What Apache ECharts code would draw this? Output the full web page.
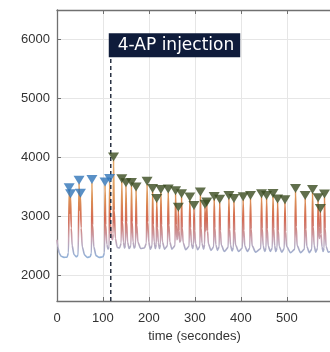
<!DOCTYPE html>
<html>
<head>
<meta charset="utf-8">
<script src="https://cdn.jsdelivr.net/npm/echarts@6/dist/echarts.min.js"></script>
<style>
  html, body { margin: 0; padding: 0; background: #ffffff; }
  #chart { width: 330px; height: 352px; }
</style>
</head>
<body>
<div id="chart"></div>
<script>
// Fluorescence trace over time, with detected peaks before and after the 4-AP injection.
const axisTitleX = 'time (secondes)';
const injectionLabel = '4-AP injection';
const injectionTime = 117;
const labelBottomValue = 5700;
const yMin = 1560, yMax = 6500;
const xMin = 0, xMax = 594, xStep = 100;

// [time (s), signal] samples of the recorded trace
const signal = [
  [0,2600],[2,2470],[5,2370],[9,2320],[15,2300],[22,2305],[25,2380],
  [26.5,3430],[28,3050],[29.5,3330],[31,2800],[33,2500],[37,2350],[42,2310],[46,2340],
  [48,3560],[49.5,3100],[51,3340],[52.5,2800],[55,2480],[60,2340],[66,2300],[72,2310],[75,2370],
  [76,3570],[77.5,2850],[80,2480],[85,2330],[92,2300],[100,2310],[103.5,2380],
  [104.5,3530],[106,2850],[108.5,2520],[111,2440],[113.5,2480],
  [114.5,3590],[116,2900],[118.5,2620],[121,2600],[122.3,2700],
  [123,3955],[124.5,3100],[127,2620],[131,2470],[136,2460],[139.7,2540],
  [141,3585],[142.5,2900],[144.5,2560],[147,2460],[149,2500],
  [150,3515],[151.5,2900],[153.5,2560],[157,2450],[161,2500],
  [162,3520],[163.5,2900],[165.5,2560],[168,2460],[171,2500],
  [172,3445],[173.5,2850],[176,2560],[182,2450],[190,2460],[194.5,2540],
  [196,3540],[197.5,2900],[199.5,2560],[203,2440],[207,2500],
  [208,3420],[209.5,2850],[211.5,2560],[214,2450],[216.2,2520],
  [217,3250],[218.5,2800],[220.5,2550],[223,2450],[225.2,2520],
  [226,3400],[227.5,2850],[229.5,2560],[234,2440],[240.5,2500],
  [242,3410],[243.5,2850],[245.5,2560],[250,2440],[256.8,2500],
  [258,3380],[259.5,2850],[261,2600],[263.2,2650],
  [264,3100],[265.5,2750],[267,2560],[270.2,2600],
  [271,3330],[272.5,2800],[274.5,2550],[280,2430],[287.5,2490],
  [289,3276],[290.5,2800],[292.5,2540],[295,2450],[297.2,2520],
  [298,3130],[299.5,2750],[301.5,2530],[306,2430],[311,2490],
  [312,3360],[313.5,2800],[315.5,2540],[319,2440],[321.2,2520],
  [322,3150],[323.5,2750],[325.2,2800],
  [326,3190],[327.5,2750],[329.5,2530],[335,2420],[341,2480],
  [342,3285],[343.5,2800],[345.5,2520],[349,2420],[353,2480],
  [354,3235],[355.5,2750],[357.5,2510],[364,2400],[372.5,2470],
  [374,3300],[375.5,2780],[377.5,2510],[381,2410],[384,2470],
  [385,3247],[386.5,2750],[388.5,2510],[395,2400],[403.5,2460],
  [405,3280],[406.5,2760],[408.5,2500],[414,2400],[419.5,2460],
  [421,3300],[422.5,2780],[424.5,2500],[432,2390],[443.5,2450],
  [445,3330],[446.5,2790],[448.5,2500],[452,2400],[455,2460],
  [456,3300],[457.5,2780],[459.5,2500],[464,2400],[468.5,2460],
  [470,3332],[471.5,2790],[473.5,2500],[476,2400],[479,2460],
  [480,3240],[481.5,2750],[483.5,2490],[489,2390],[494.5,2450],
  [496,3230],[497.5,2740],[499.5,2490],[508,2380],[517.5,2440],
  [519,3417],[520.5,2820],[522.5,2500],[530,2380],[538.5,2440],
  [540,3300],[541.5,2780],[543.5,2490],[549,2380],[554.5,2440],
  [556,3400],[557.5,2820],[559.5,2500],[563,2390],[567,2460],
  [568,3260],[569.5,2800],[571,2620],[572.3,2700],
  [573,3080],[574.5,2700],[576.5,2480],[579,2400],[581.2,2460],
  [582,3325],[583.5,2790],[585.5,2490],[590,2390],[596,2400]
];

// detected peaks before the injection
const peaksBeforeTime  = [26.5, 29.5, 48, 51, 76, 104.5, 114.5];
const peaksBeforeValue = [3430, 3330, 3560, 3340, 3570, 3530, 3590];

// detected peaks after the injection
const peaksAfterTime  = [123, 141, 150, 162, 172, 196, 208, 217, 226, 242, 258, 264, 271, 289, 298,
  312, 322, 326, 342, 354, 374, 385, 405, 421, 445, 456, 470, 480, 496, 519, 540, 556, 568, 573, 582];
const peaksAfterValue = [3955, 3585, 3515, 3520, 3445, 3540, 3420, 3250, 3400, 3410, 3380, 3100, 3330, 3276, 3130,
  3360, 3150, 3190, 3285, 3235, 3300, 3247, 3280, 3300, 3330, 3300, 3332, 3240, 3230, 3417, 3300, 3400, 3260, 3080, 3325];

const zip = (a, b) => a.map((v, i) => [v, b[i]]);
const font = 'Liberation Sans, Arial, sans-serif';
const axisGray = '#707070';
const plainNumber = v => String(v);

const chart = echarts.init(document.getElementById('chart'), null, { renderer: 'canvas' });

chart.setOption({
  animation: false,
  backgroundColor: '#ffffff',
  grid: { left: 57, top: 10, width: 275, bottom: 51, containLabel: false },
  visualMap: {
    show: false,
    type: 'continuous',
    seriesIndex: 0,
    dimension: 1,
    min: 2300,
    max: 3600,
    inRange: { color: ['#93b2d8', '#c9a2b0', '#d46a52', '#dc8f55', '#e2a566'] }
  },
  xAxis: [{
    type: 'value',
    min: xMin, max: xMax, interval: xStep,
    position: 'bottom',
    name: axisTitleX,
    nameLocation: 'middle',
    nameGap: 28,
    nameTextStyle: { fontFamily: font, fontSize: 13, color: '#333333', padding: [0, 0, 0, 2] },
    axisLine: { show: true, onZero: false, lineStyle: { color: axisGray, width: 1.3 } },
    axisTick: { show: true, inside: true, length: 4, lineStyle: { color: axisGray } },
    axisLabel: { fontFamily: font, fontSize: 13, color: '#333333', margin: 11, showMaxLabel: false },
    splitLine: { show: true, showMaxLine: false, lineStyle: { color: '#e6e6e6', width: 1 } }
  }, {
    type: 'value',
    min: xMin, max: xMax, interval: xStep,
    position: 'top',
    axisLine: { show: true, onZero: false, lineStyle: { color: axisGray, width: 1.3 } },
    axisTick: { show: true, inside: true, length: 4, lineStyle: { color: axisGray } },
    axisLabel: { show: false },
    splitLine: { show: false }
  }],
  yAxis: {
    type: 'value',
    min: yMin, max: yMax,
    splitNumber: 5,
    axisLine: { show: true, onZero: false, lineStyle: { color: axisGray, width: 1.3 } },
    axisTick: { show: true, inside: true, length: 4, lineStyle: { color: axisGray } },
    axisLabel: { fontFamily: font, fontSize: 13, color: '#333333', margin: 7,
                 showMinLabel: false, showMaxLabel: false, formatter: plainNumber },
    splitLine: { show: true, showMinLine: false, showMaxLine: false,
                 lineStyle: { color: '#e6e6e6', width: 1 } }
  },
  series: [{
    name: 'signal',
    type: 'line',
    data: signal,
    showSymbol: false,
    smooth: 0.25,
    smoothMonotone: 'x',
    lineStyle: { width: 1.6 },
    z: 2
  }, {
    name: 'injection',
    type: 'line',
    data: [[injectionTime, yMin], [injectionTime, labelBottomValue]],
    showSymbol: false,
    lineStyle: { color: '#1b2436', width: 1.4, type: [4, 3] },
    z: 3
  }, {
    name: 'peaks before',
    type: 'scatter',
    data: zip(peaksBeforeTime, peaksBeforeValue),
    symbol: 'triangle',
    symbolRotate: 180,
    symbolSize: [11, 9],
    symbolOffset: [0, -3],
    itemStyle: { color: '#2f74b8' },
    z: 4
  }, {
    name: 'peaks after',
    type: 'scatter',
    data: zip(peaksAfterTime, peaksAfterValue),
    symbol: 'triangle',
    symbolRotate: 180,
    symbolSize: [11, 9],
    symbolOffset: [0, -3],
    itemStyle: { color: '#3a4b1f' },
    z: 4
  }]
});

// Injection annotation box, anchored on the injection time via the grid's scale
const anchor = chart.convertToPixel({ gridIndex: 0 }, [injectionTime, labelBottomValue]);
chart.setOption({
  graphic: [{
    type: 'text',
    x: anchor[0] - 2,
    y: anchor[1],
    z: 10,
    style: {
      text: injectionLabel,
      fill: '#ffffff',
      font: '17px "DejaVu Sans", sans-serif',
      lineHeight: 20,
      align: 'left',
      verticalAlign: 'bottom',
      backgroundColor: '#0f1c3b',
      padding: [2, 6, 2, 9]
    }
  }]
});
</script>
</body>
</html>
